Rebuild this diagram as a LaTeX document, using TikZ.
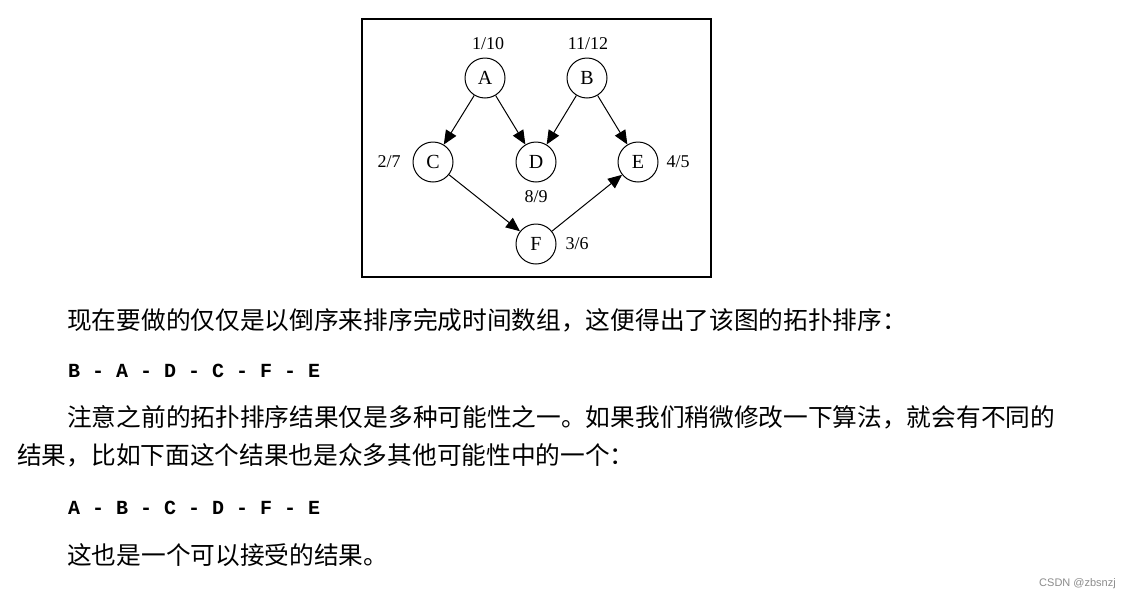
\documentclass[tikz,border=0pt]{standalone}
\usepackage{fontspec}
\usepackage{tikz}
\usetikzlibrary{arrows.meta}
\setmainfont{Liberation Serif}
\newfontfamily\cjk{Noto Sans CJK SC}
\newfontfamily\codefont{Liberation Mono}
\newfontfamily\markfont{Liberation Sans}

\begin{document}
\begin{tikzpicture}[
  x=1pt, y=-1pt,
  vertex/.style={circle, draw, line width=1pt, minimum size=40pt, inner sep=0pt, font=\fontsize{20}{22}\selectfont},
  tag/.style={inner sep=0pt, font=\fontsize{18}{20}\selectfont},
  prose/.style={anchor=west, inner sep=0pt, font=\cjk\fontsize{24.7}{27}\selectfont},
  order/.style={anchor=west, inner sep=0pt, font=\codefont\bfseries\fontsize{20}{22}\selectfont},
  edge/.style={-{Triangle[length=14pt, width=12pt]}, line width=1pt}
]
  \useasboundingbox (0,0) rectangle (1127,600);
  \fill[white] (0,0) rectangle (1127,600);

  % the graph with its frame
  \draw[line width=1.4pt] (362,19) rectangle (711,277);
  \node[vertex] (a) at (485,78) {A};
  \node[vertex] (b) at (587,78) {B};
  \node[vertex] (c) at (433,162) {C};
  \node[vertex] (d) at (536,162) {D};
  \node[vertex] (e) at (638,162) {E};
  \node[vertex] (f) at (536,244) {F};

  \node[tag] (ta) at (488,44) {1/10};
  \node[tag] (tb) at (588,44) {11/12};
  \node[tag] (tc) at (389,162) {2/7};
  \node[tag] (td) at (536,197) {8/9};
  \node[tag] (te) at (678,162) {4/5};
  \node[tag] (tf) at (577,244) {3/6};

  \draw[edge] (a) -- (c);
  \draw[edge] (a) -- (d);
  \draw[edge] (b) -- (d);
  \draw[edge] (b) -- (e);
  \draw[edge] (c) -- (f);
  \draw[edge] (f) -- (e);

  % the text below
  \node[prose] (p1) at (67,320) {现在要做的仅仅是以倒序来排序完成时间数组，这便得出了该图的拓扑排序：};
  \node[order] (o1) at (68,371) {B - A - D - C - F - E};
  \node[prose] (p2) at (67,417) {注意之前的拓扑排序结果仅是多种可能性之一。如果我们稍微修改一下算法，就会有不同的};
  \node[prose] (p3) at (17,455) {结果，比如下面这个结果也是众多其他可能性中的一个：};
  \node[order] (o2) at (68,508) {A - B - C - D - F - E};
  \node[prose] (p4) at (67,555) {这也是一个可以接受的结果。};
  \node[anchor=east, inner sep=0pt, text=black!45, font=\markfont\fontsize{11}{12}\selectfont] (mark) at (1116,584) {CSDN @zbsnzj};
\end{tikzpicture}
\end{document}
